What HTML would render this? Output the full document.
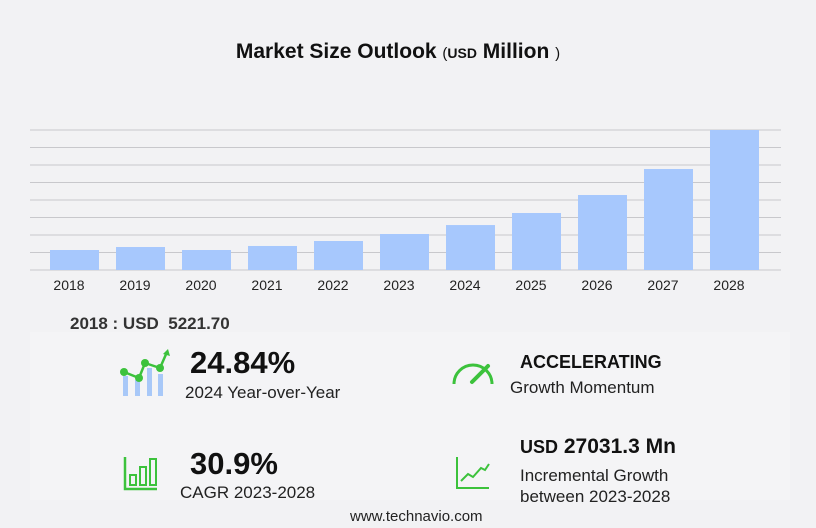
<!DOCTYPE html>
<html><head><meta charset="utf-8"><style>
body{margin:0;width:816px;height:528px;background:#f2f2f4;font-family:"Liberation Sans",sans-serif;position:relative;overflow:hidden}
.t{position:absolute;white-space:nowrap;color:#111}
</style></head><body>
<div class="t" style="left:0;width:796px;top:40px;text-align:center;font-size:21px;font-weight:bold">Market Size Outlook <span style="font-size:15px;font-weight:normal">(</span><span style="font-size:14px">USD</span> Million <span style="font-size:15px;font-weight:normal">)</span></div>
<svg id="chart" width="816" height="300" style="position:absolute;left:0;top:0"></svg>
<div class="t" style="left:70px;top:314px;font-size:17px;font-weight:bold;color:#333">2018 : USD&nbsp; 5221.70</div>
<div style="position:absolute;left:30px;top:332px;width:760px;height:168px;background:#f4f4f6"></div>
<svg width="60" height="50" style="position:absolute;left:115px;top:348px">
<rect x="8" y="28" width="5" height="20" fill="#a8c8f8"/><rect x="20" y="32" width="5" height="16" fill="#a8c8f8"/><rect x="32" y="20" width="5" height="28" fill="#a8c8f8"/><rect x="43" y="26" width="5" height="22" fill="#a8c8f8"/>
<polyline points="9,24 24,30 30,15 45,20 52,4" fill="none" stroke="#3cc23c" stroke-width="2.5"/>
<circle cx="9" cy="24" r="4" fill="#3cc23c"/><circle cx="24" cy="30" r="4" fill="#3cc23c"/><circle cx="30" cy="15" r="4" fill="#3cc23c"/><circle cx="45" cy="20" r="4" fill="#3cc23c"/><path d="M48,6 L53,1 L55,8Z" fill="#3cc23c"/></svg>
<div class="t" style="left:190px;top:345px;font-size:31px;font-weight:bold">24.84%</div>
<div class="t" style="left:185px;top:383px;font-size:17px;color:#222">2024 Year-over-Year</div>
<svg width="46" height="30" style="position:absolute;left:450px;top:358px">
<path d="M4,26 A19,19 0 0 1 42,26" fill="none" stroke="#3cc23c" stroke-width="3"/>
<line x1="22" y1="24" x2="38" y2="8" stroke="#3cc23c" stroke-width="4" stroke-linecap="round"/></svg>
<div class="t" style="left:520px;top:352px;font-size:18px;font-weight:bold">ACCELERATING</div>
<div class="t" style="left:510px;top:378px;font-size:17px;color:#222">Growth Momentum</div>
<svg width="36" height="36" style="position:absolute;left:123px;top:455px">
<path d="M2,2 V34 H34" fill="none" stroke="#3cc23c" stroke-width="2.5"/><rect x="7" y="20" width="6" height="10" fill="none" stroke="#3cc23c" stroke-width="2"/><rect x="17" y="12" width="6" height="18" fill="none" stroke="#3cc23c" stroke-width="2"/><rect x="27" y="4" width="6" height="26" fill="none" stroke="#3cc23c" stroke-width="2"/></svg>
<div class="t" style="left:190px;top:446px;font-size:31px;font-weight:bold">30.9%</div>
<div class="t" style="left:180px;top:483px;font-size:17px;color:#222">CAGR 2023-2028</div>
<svg width="36" height="36" style="position:absolute;left:455px;top:455px">
<path d="M2,2 V33 H34" fill="none" stroke="#3cc23c" stroke-width="2"/><polyline points="6,26 13,19 18,22 26,13 30,15 34,9" fill="none" stroke="#3cc23c" stroke-width="2"/></svg>
<div class="t" style="left:520px;top:435px;font-size:21px;font-weight:bold"><span style="font-size:18px">USD</span> 27031.3 Mn</div>
<div class="t" style="left:520px;top:465px;font-size:17px;color:#222;line-height:21px">Incremental Growth<br>between 2023-2028</div>
<div class="t" style="left:350px;top:508px;font-size:15px;color:#222">www.technavio.com</div>
<script>
const years=["2018","2019","2020","2021","2022","2023","2024","2025","2026","2027","2028"];
const values=[5222,6000,5220,6270,7570,9400,11740,14880,19580,26370,36550];
const svg=document.getElementById('chart');const NS='http://www.w3.org/2000/svg';
const base=270,yMax=36550,plotH=140;
const y=v=>base-v/yMax*plotH;
const x=i=>50+i*66;
for(let k=0;k<=8;k++){const gy=base-k*17.5;const l=document.createElementNS(NS,'line');
l.setAttribute('x1',30);l.setAttribute('x2',781);l.setAttribute('y1',gy);l.setAttribute('y2',gy);l.setAttribute('stroke','#c8c8cc');l.setAttribute('stroke-width',1);


svg.appendChild(l);}
values.forEach((v,i)=>{const r=document.createElementNS(NS,'rect');
r.setAttribute('x',x(i));r.setAttribute('width',49);r.setAttribute('y',y(v));r.setAttribute('height',base-y(v));r.setAttribute('fill','#a7c8fd');


svg.appendChild(r);
const t=document.createElementNS(NS,'text');t.setAttribute('x',x(i)+19);t.setAttribute('y',290);t.setAttribute('text-anchor','middle');t.setAttribute('font-size',14);t.setAttribute('fill','#222');t.setAttribute('font-family','Liberation Sans, sans-serif');t.textContent=years[i];


svg.appendChild(t);});
</script>
</body></html>
